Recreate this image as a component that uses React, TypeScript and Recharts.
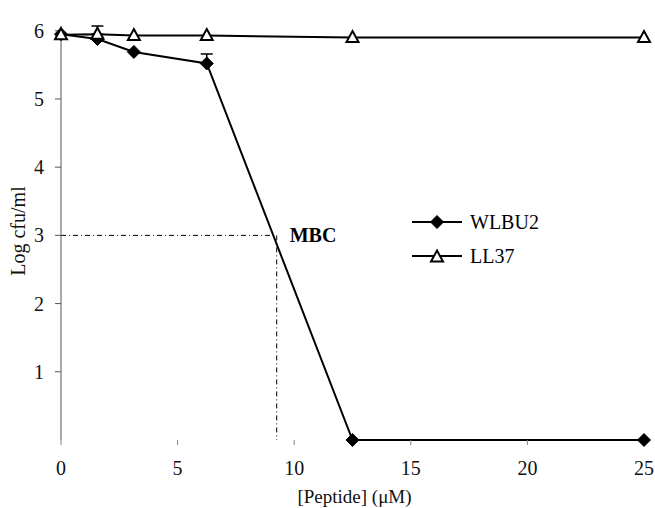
import React from 'react';
import {
  LineChart,
  Line,
  XAxis,
  YAxis,
  ErrorBar,
  ReferenceLine,
  ReferenceDot,
  Label,
} from 'recharts';

const peptideConc = [0, 1.5625, 3.125, 6.25, 12.5, 25];
const wlbu2Values = [5.95, 5.88, 5.69, 5.52, 0, 0];
const ll37Values = [5.94, 5.95, 5.93, 5.93, 5.9, 5.9];
const wlbu2Errors: (number[] | undefined)[] = [undefined, undefined, undefined, [0, 0.14], undefined, undefined];
const ll37Errors: (number[] | undefined)[] = [undefined, [0, 0.12], undefined, undefined, undefined, undefined];
const xTicks = [0, 5, 10, 15, 20, 25];
const yTicks = [1, 2, 3, 4, 5, 6];
const seriesNames = ['WLBU2', 'LL37'];
const mbcLevel = 3;
const mbcConc = 9.25;

const data = peptideConc.map((x, i) => ({
  x,
  wlbu2: wlbu2Values[i],
  ll37: ll37Values[i],
  errW: wlbu2Errors[i],
  errL: ll37Errors[i],
}));

const FONT = '"Liberation Serif", "Times New Roman", serif';

const Diamond = (props: any) => {
  const { cx, cy } = props;
  if (cx == null || cy == null) return null;
  const r = 6.5;
  return (
    <polygon
      points={`${cx},${cy - r} ${cx + r},${cy} ${cx},${cy + r} ${cx - r},${cy}`}
      fill="#000"
      stroke="#000"
      strokeWidth={1}
    />
  );
};

const Triangle = (props: any) => {
  const { cx, cy } = props;
  if (cx == null || cy == null) return null;
  return (
    <polygon
      points={`${cx},${cy - 6.5} ${cx + 6},${cy + 4.5} ${cx - 6},${cy + 4.5}`}
      fill="#fff"
      stroke="#000"
      strokeWidth={2}
    />
  );
};

const XTick = (props: any) => {
  const { x, y, payload } = props;
  return (
    <text x={x} y={y} dy="0.71em" textAnchor="middle" fontFamily={FONT} fontSize={20} fill="#111">
      {payload.value}
    </text>
  );
};

const YTick = (props: any) => {
  const { x, y, payload } = props;
  return (
    <text x={x} y={y} dy="0.355em" textAnchor="end" fontFamily={FONT} fontSize={20} fill="#111">
      {payload.value}
    </text>
  );
};

const LegendBox = () => (
  <svg
    width={140}
    height={70}
    style={{ position: 'absolute', left: 410, top: 210, display: 'block' }}
  >
    <line x1={2} y1={12} x2={52} y2={12} stroke="#000" strokeWidth={2} />
    <Diamond cx={27} cy={12} />
    <text x={60} y={18.5} fontFamily={FONT} fontSize={20} fill="#000">{seriesNames[0]}</text>
    <line x1={2} y1={46} x2={52} y2={46} stroke="#000" strokeWidth={2} />
    <Triangle cx={27} cy={47} />
    <text x={60} y={52.5} fontFamily={FONT} fontSize={20} fill="#000">{seriesNames[1]}</text>
  </svg>
);

export default function App() {
  return (
    <div
      style={{
        position: 'absolute',
        left: 0,
        top: 0,
        width: 655,
        height: 508,
        background: '#fff',
        fontFamily: FONT,
      }}
    >
      <LineChart
        width={655}
        height={508}
        data={data}
        margin={{ top: 26, right: 11, left: 0, bottom: 0 }}
        style={{ fontFamily: FONT }}
      >
        <XAxis
          dataKey="x"
          type="number"
          domain={[0, 25]}
          ticks={xTicks}
          axisLine={false}
          tickLine={{ stroke: '#888', strokeWidth: 1 }}
          tickSize={5}
          tickMargin={16}
          height={68}
          tick={<XTick />}
          interval={0}
        >
          <Label
            content={(p: any) => {
              const vb = p.viewBox || {};
              return (
                <text
                  x={vb.x + vb.width / 2 + 2}
                  y={503}
                  textAnchor="middle"
                  fontFamily={FONT}
                  fontSize={19}
                  fill="#111"
                >
                  [Peptide] (μM)
                </text>
              );
            }}
          />
        </XAxis>
        <YAxis
          type="number"
          domain={[0, 6]}
          ticks={yTicks}
          width={61}
          axisLine={{ stroke: '#555', strokeWidth: 1 }}
          tickLine={{ stroke: '#555', strokeWidth: 1 }}
          tickSize={6}
          tickMargin={11}
          tick={<YTick />}
          interval={0}
        >
          <Label
            content={() => (
              <text
                x={18}
                y={231}
                transform="rotate(-90 18 231)"
                textAnchor="middle"
                dominantBaseline="central"
                fontFamily={FONT}
                fontSize={20}
                fill="#111"
              >
                Log cfu/ml
              </text>
            )}
          />
        </YAxis>
        <ReferenceLine
          segment={[{ x: 0, y: mbcLevel }, { x: mbcConc, y: mbcLevel }]}
          stroke="#000"
          strokeWidth={1}
          strokeDasharray="5 3 1 3"
        />
        <ReferenceLine
          segment={[{ x: mbcConc, y: mbcLevel }, { x: mbcConc, y: 0 }]}
          stroke="#000"
          strokeWidth={1}
          strokeDasharray="5 3 1 3"
        />
        <ReferenceDot
          x={mbcConc}
          y={mbcLevel}
          r={0}
          stroke="none"
          fill="none"
          label={{
            value: 'MBC',
            position: 'right',
            offset: 13,
            fontFamily: FONT,
            fontSize: 20,
            fontWeight: 'bold',
            fill: '#000',
          }}
        />
        <Line
          dataKey="wlbu2"
          stroke="#000"
          strokeWidth={2}
          dot={<Diamond />}
          activeDot={false}
          isAnimationActive={false}
          legendType="none"
        >
          <ErrorBar dataKey="errW" width={6} stroke="#000" strokeWidth={1.5} direction="y" />
        </Line>
        <Line
          dataKey="ll37"
          stroke="#000"
          strokeWidth={2}
          dot={<Triangle />}
          activeDot={false}
          isAnimationActive={false}
          legendType="none"
        >
          <ErrorBar dataKey="errL" width={6} stroke="#000" strokeWidth={1.5} direction="y" />
        </Line>
      </LineChart>
      <LegendBox />
    </div>
  );
}
